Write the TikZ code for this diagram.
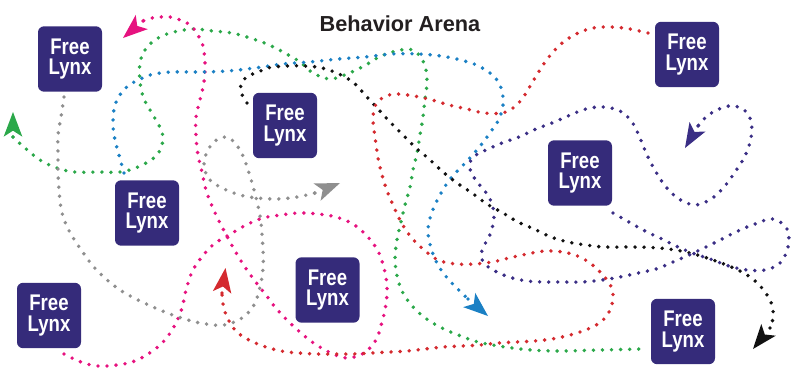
\documentclass[tikz,border=0pt]{standalone}
\usepackage{fontspec}
\setmainfont{Liberation Sans}
\newfontfamily\lynxfont[FakeStretch=0.82]{Liberation Sans}
\usetikzlibrary{arrows.meta}
\definecolor{boxc}{HTML}{352B7A}
\definecolor{gc}{HTML}{2BA84A}
\definecolor{mc}{HTML}{E6127F}
\definecolor{bc}{HTML}{1B80C4}
\definecolor{grc}{HTML}{8F8F8F}
\definecolor{kc}{HTML}{111111}
\definecolor{rc}{HTML}{D42A2F}
\definecolor{pc}{HTML}{3A2E85}
\definecolor{titlec}{HTML}{231F20}
\begin{document}
\begin{tikzpicture}[x=0.75pt,y=-0.75pt,
  dots/.style={line width=2.9pt, line cap=round, dash pattern=on 0pt off 6.8pt},
  tipc/.style={-{Stealth[length=18.5pt,width=14pt,inset=4.5pt,line width=0pt]}},
  lynxbox/.style={fill=boxc, rounded corners=4.5pt, minimum width=48pt, minimum height=49pt,
    inner sep=0pt, text=white, align=center,
    font=\lynxfont\bfseries\fontsize{17pt}{15.5pt}\selectfont},
  titlestyle/.style={text=titlec, inner sep=0pt, font=\bfseries\fontsize{16.3pt}{18pt}\selectfont}]
\useasboundingbox (0,0) rectangle (803,389);

% green
\draw[dots,gc] plot[smooth,tension=0.6] coordinates {(13,137) (25,148) (40,160) (57,168) (75,172) (100,172) (120,172) (138,167) (155,157) (162,145) (162,132) (153,115) (144,99) (140,82) (140,63) (145,50) (155,40) (170,33) (193,29) (213,31) (232,33) (250,38) (267,44) (283,52) (300,62) (313,73) (330,79) (347,74) (364,66) (379,57) (396,51) (413,50) (424,63) (427,81) (425,99) (423,117) (420,135) (417,153) (413,170) (410,187) (405,205) (401,222) (397,240) (395,258) (397,276) (403,293) (414,308) (428,320) (444,329) (461,336) (478,342) (505,347) (532,350) (560,351) (600,350) (642,349)};
\draw[dots,gc,tipc] (13,137) -- (13,112);

% magenta
\draw[dots,mc] plot[smooth,tension=0.6] coordinates {(64,354) (81,362) (98,366) (117,365) (135,361) (151,352) (164,341) (175,325) (182,308) (186,290) (192,272) (201,258) (214,244) (229,235) (246,225) (263,218) (281,215) (299,213) (318,214) (336,217) (353,224) (367,236) (378,251) (384,268) (387,286) (386,304) (382,322) (376,340) (364,353) (348,358) (333,354) (315,344) (301,333) (287,320) (275,307) (266,295) (258,285) (247,270) (238,256) (229,240) (220,223) (212,206) (206,190) (202,172) (198,155) (196,136) (196,117) (200,100) (204,82) (205,63) (203,46) (199,37) (194,29) (187,23) (170,17) (152,18) (143,21)};
\draw[dots,mc,tipc] (143,21) -- (123,38);

% blue
\draw[dots,bc] plot[smooth,tension=0.6] coordinates {(124,173) (119,155) (115,140) (113,125) (114,109) (117,100) (122,92) (128,86) (136,81) (145,77) (154,74) (172,72) (200,72) (227,71) (255,68) (283,64) (310,62) (338,59) (365,57) (392,54) (419,54) (447,57) (474,64) (490,73) (497,80) (502,91) (503,105) (499,119) (492,130) (481,145) (469,159) (451,178) (440,195) (432,212) (428,230) (431,248) (438,265) (449,280) (468,299)};
\draw[dots,bc,tipc] (468,299) -- (488,316);

% gray
\draw[dots,grc] plot[smooth,tension=0.6] coordinates {(64,97) (61,117) (58,135) (58,153) (58,172) (59,190) (61,208) (65,222) (72,236) (82,251) (93,266) (106,279) (120,290) (136,299) (153,307) (170,314) (188,320) (206,324) (224,325) (242,318) (254,305) (260,287) (263,269) (263,250) (261,223) (258,206) (254,190) (249,173) (243,156) (235,143) (226,137) (215,141) (207,152) (204,165) (209,179) (222,188) (240,195) (257,198) (278,199) (297,197) (315,193)};
\draw[dots,grc,tipc] (315,193) -- (340,183);

% black
\draw[dots,kc] plot[smooth,tension=0.6] coordinates {(247,103) (241,92) (242,82) (250,75) (259,72) (267,68) (285,66) (305,66) (322,68) (339,74) (354,83) (366,96) (378,109) (391,123) (403,135) (416,148) (429,159) (443,172) (457,183) (472,193) (487,204) (503,213) (518,222) (534,229) (551,237) (568,242) (586,245) (604,247) (631,247) (659,248) (686,252) (713,260) (738,270) (754,280) (765,292) (772,305) (773,318) (770,328)};
\draw[dots,kc,tipc] (770,328) -- (753,349);

% red
\draw[dots,rc] plot[smooth,tension=0.6] coordinates {(648,33) (630,29) (612,27) (593,28) (576,34) (561,44) (548,58) (538,73) (529,88) (522,99) (513,108) (502,113) (484,113) (467,109) (449,105) (432,100) (414,96) (396,94) (384,97) (376,104) (373,117) (374,130) (376,144) (378,158) (381,171) (386,188) (393,205) (401,222) (411,237) (423,249) (438,260) (456,264) (474,264) (492,262) (509,258) (527,254) (545,251) (563,252) (580,257) (595,267) (607,280) (612,289) (613,298) (610,310) (602,321) (588,329) (570,335) (552,339) (534,341) (516,342) (498,343) (480,345) (462,346) (443,347) (425,349) (407,351) (389,352) (371,353) (353,354) (335,354) (317,354) (299,353) (281,351) (263,346) (247,339) (235,330) (227,317) (223,304) (222,293)};
\draw[dots,rc,tipc] (222,293) -- (225.5,268);

% purple
\draw[dots,pc] plot[smooth,tension=0.6] coordinates {(613,213) (629,222) (645,231) (662,239) (678,247) (695,254) (713,260) (729,266) (747,270) (765,270) (780,263) (788,247) (787,229) (773,219) (755,224) (738,231) (722,239) (706,247) (689,255) (673,262) (656,269) (638,273) (620,277) (602,280) (583,282) (564,282) (546,282) (527,281) (509,277) (493,270) (484,263) (481,255) (484,246) (491,232) (494,214) (489,197) (478,183) (471,172) (470,162) (476,155) (486,150) (502,143) (519,137) (536,129) (552,123) (568,116) (586,109) (603,107) (620,111) (632,122) (640,138) (647,155) (656,172) (666,187) (679,199) (695,205) (711,199) (724,187) (735,172) (745,156) (751,138) (751,121) (743,109) (729,106) (715,111) (705,118) (698,126)};
\draw[dots,pc,tipc] (698,126) -- (685,148);

% boxes
\node[lynxbox] (box1) at (70,59) {Free\\Lynx};
\node[lynxbox] (box2) at (285,125.5) {Free\\Lynx};
\node[lynxbox] (box3) at (687,54.5) {Free\\Lynx};
\node[lynxbox] (box4) at (580,173) {Free\\Lynx};
\node[lynxbox] (box5) at (147,213) {Free\\Lynx};
\node[lynxbox] (box6) at (49,315.5) {Free\\Lynx};
\node[lynxbox] (box7) at (327.5,290) {Free\\Lynx};
\node[lynxbox] (box8) at (683,331.5) {Free\\Lynx};

\node[titlestyle] (title) at (400,24) {Behavior Arena};
\end{tikzpicture}
\end{document}
